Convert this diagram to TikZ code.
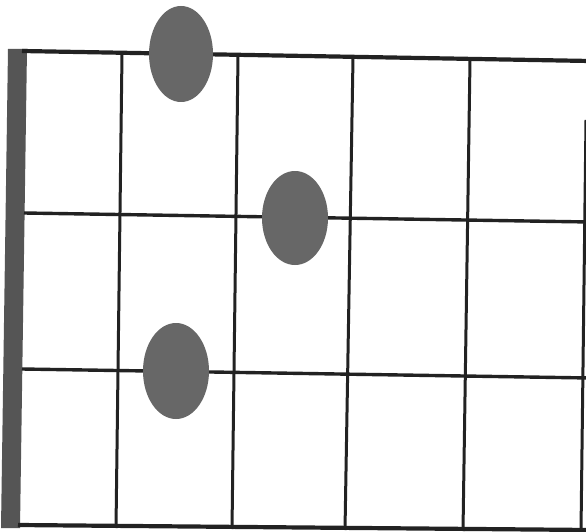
\documentclass[tikz,border=0pt]{standalone}
\usetikzlibrary{shapes.geometric}
\definecolor{gridc}{HTML}{222222}
\definecolor{barc}{HTML}{555555}
\definecolor{dotc}{HTML}{676767}
\begin{document}
\begin{tikzpicture}[x=1pt,y=-1pt,
  fret/.style={draw=gridc,line width=3pt},
  strg/.style={draw=gridc,line width=3.4pt},
  dotn/.style={ellipse,fill=dotc,draw=none,inner sep=0pt}]
\useasboundingbox (0,0) rectangle (586,532);
\fill[white] (0,0) rectangle (586,532);
\begin{scope}
\clip (0,0) rectangle (586,532);
% nut bar
\fill[barc] (8,49) -- (27,49) -- (20,528) -- (1,528) -- cycle;
% grid coordinates
\coordinate (t0) at (22,51);  \coordinate (t5) at (590,61);
\coordinate (a0) at (24,213); \coordinate (a5) at (590,222);
\coordinate (b0) at (22,369); \coordinate (b5) at (590,378);
\coordinate (c0) at (18,525); \coordinate (c5) at (590,530);
\coordinate (v1t) at (122,54); \coordinate (v1b) at (116,528);
\coordinate (v2t) at (238,56); \coordinate (v2b) at (232,529);
\coordinate (v3t) at (353,58); \coordinate (v3b) at (345,530);
\coordinate (v4t) at (470,60); \coordinate (v4b) at (463,531);
\coordinate (v5t) at (586,120); \coordinate (v5b) at (581,531);
% frets (vertical)
\draw[fret] (v1t) -- (v1b);
\draw[fret] (v2t) -- (v2b);
\draw[fret] (v3t) -- (v3b);
\draw[fret] (v4t) -- (v4b);
\draw[fret] (v5t) -- (v5b);
% strings (horizontal)
\draw[strg,line width=4.2pt] (t0) -- (t5);
\draw[strg] (a0) -- (a5);
\draw[strg] (b0) -- (b5);
\draw[strg,line width=4.2pt] (c0) -- (c5);
\end{scope}
% finger dots
\node[dotn,minimum width=64pt,minimum height=96pt] (d1) at (181,54) {};
\node[dotn,minimum width=66pt,minimum height=94pt] (d2) at (295,218) {};
\node[dotn,minimum width=66pt,minimum height=96pt] (d3) at (176,371) {};
\end{tikzpicture}
\end{document}
